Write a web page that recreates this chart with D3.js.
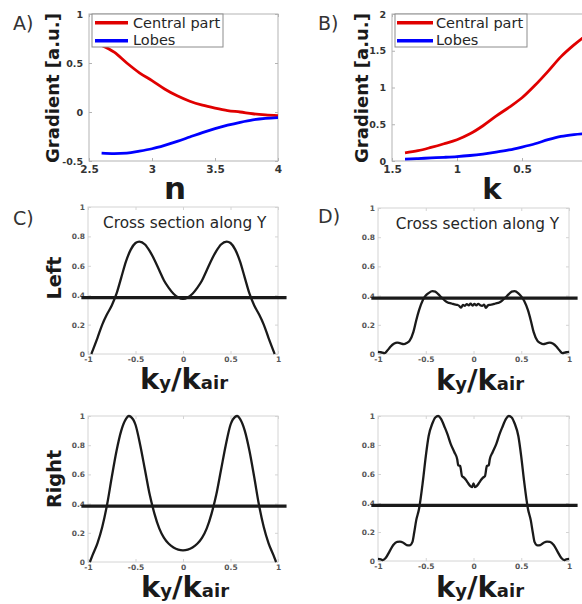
<!DOCTYPE html>
<meta charset="utf-8">
<script src="https://d3js.org/d3.v7.min.js"></script>
<style>
  body { margin: 0; background: #fff; }
  text { font-family: "DejaVu Sans", sans-serif; }
</style>
<div id="my_dataviz"></div>
<script>

// ---- panel A : gradient vs n ----
var nVals     = [2.6, 2.7, 2.8, 2.9, 3.0, 3.1, 3.2, 3.3, 3.4, 3.5, 3.6, 3.7, 3.8, 3.9, 4.0];
var centralA  = [0.68, 0.61, 0.50, 0.40, 0.32, 0.235, 0.165, 0.11, 0.07, 0.04, 0.015, 0.0, -0.018, -0.03, -0.038];
var lobesA    = [-0.42, -0.425, -0.42, -0.40, -0.375, -0.34, -0.30, -0.255, -0.21, -0.17, -0.135, -0.105, -0.08, -0.065, -0.057];
var nTicks    = [2.5, 3, 3.5, 4];
var gradTicksA = [-0.5, 0, 0.5, 1];

// ---- panel B : gradient vs k (reversed axis) ----
var kVals     = [1.4, 1.3, 1.2, 1.1, 1.0, 0.9, 0.8, 0.7, 0.6, 0.5, 0.4, 0.3, 0.2, 0.1, 0.0];
var centralB  = [0.11, 0.14, 0.185, 0.235, 0.29, 0.37, 0.48, 0.61, 0.73, 0.86, 1.03, 1.22, 1.42, 1.58, 1.72];
var lobesB    = [0.025, 0.033, 0.042, 0.05, 0.06, 0.075, 0.095, 0.12, 0.15, 0.19, 0.235, 0.29, 0.335, 0.36, 0.375];
var kTicks    = [1.5, 1, 0.5];
var gradTicksB = [0, 0.5, 1, 1.5, 2];

var legendNames  = ["Central part", "Lobes"];
var legendColors = ["#e00000", "#0000ff"];

// ---- cross sections along Y ----
var crossXTicks = [-1, -0.5, 0, 0.5, 1];
var crossYTicks = [0, 0.2, 0.4, 0.6, 0.8, 1];
var threshold = 0.383;
var thresholdSpan = [-1.07, 1.09];

// C, Left
var cLeftX = [-0.965, -0.9, -0.85, -0.8, -0.75, -0.7, -0.65, -0.6, -0.55, -0.5, -0.46, -0.4, -0.35, -0.3, -0.25, -0.2, -0.15, -0.1, -0.05, 0,
              0.05, 0.1, 0.15, 0.2, 0.25, 0.3, 0.35, 0.4, 0.46, 0.5, 0.55, 0.6, 0.65, 0.7, 0.75, 0.8, 0.85, 0.9, 0.965];
var cLeftY = [0, 0.11, 0.2, 0.27, 0.33, 0.41, 0.52, 0.63, 0.71, 0.755, 0.765, 0.745, 0.70, 0.64, 0.57, 0.50, 0.45, 0.41, 0.385, 0.375,
              0.385, 0.41, 0.45, 0.50, 0.57, 0.64, 0.70, 0.745, 0.765, 0.755, 0.71, 0.63, 0.52, 0.41, 0.33, 0.27, 0.2, 0.11, 0];

// C, Right
var cRightX = [-0.98, -0.95, -0.9, -0.85, -0.8, -0.75, -0.7, -0.65, -0.6, -0.57, -0.55, -0.5, -0.45, -0.4, -0.35, -0.3, -0.25, -0.2, -0.15, -0.1, -0.05, 0,
               0.05, 0.1, 0.15, 0.2, 0.25, 0.3, 0.35, 0.4, 0.45, 0.5, 0.55, 0.57, 0.6, 0.65, 0.7, 0.75, 0.8, 0.85, 0.9, 0.95, 0.98];
var cRightY = [0, 0.05, 0.13, 0.24, 0.39, 0.58, 0.76, 0.9, 0.98, 1.0, 0.995, 0.94, 0.8, 0.63, 0.46, 0.33, 0.23, 0.165, 0.125, 0.1, 0.085, 0.08,
               0.085, 0.1, 0.125, 0.165, 0.23, 0.33, 0.46, 0.63, 0.8, 0.94, 0.995, 1.0, 0.98, 0.9, 0.76, 0.58, 0.39, 0.24, 0.13, 0.05, 0];

// D, Left
var dLeftX = [-1, -0.97, -0.93, -0.9, -0.87, -0.83, -0.8, -0.77, -0.73, -0.7, -0.67, -0.63, -0.6, -0.57, -0.53, -0.5, -0.47, -0.43, -0.4, -0.37,
              -0.33, -0.3, -0.27, -0.23, -0.2, -0.17, -0.15, -0.13, -0.11, -0.09, -0.07, -0.05, -0.03, -0.01,
              0.01, 0.03, 0.05, 0.07, 0.09, 0.11, 0.13, 0.15, 0.17, 0.2, 0.23, 0.27, 0.3, 0.33,
              0.37, 0.4, 0.43, 0.47, 0.5, 0.53, 0.57, 0.6, 0.63, 0.67, 0.7, 0.73, 0.77, 0.8, 0.83, 0.87, 0.9, 0.93, 0.97, 1];
var dLeftY = [0.015, 0.012, 0.006, 0.025, 0.05, 0.072, 0.078, 0.074, 0.068, 0.075, 0.09, 0.15, 0.23, 0.30, 0.37, 0.40, 0.417, 0.43, 0.427, 0.41,
              0.384, 0.366, 0.353, 0.346, 0.34, 0.336, 0.33, 0.317, 0.336, 0.33, 0.342, 0.333, 0.345, 0.332,
              0.343, 0.333, 0.344, 0.334, 0.33, 0.338, 0.316, 0.332, 0.337, 0.34, 0.346, 0.353, 0.366, 0.384,
              0.41, 0.427, 0.43, 0.416, 0.395, 0.365, 0.30, 0.23, 0.15, 0.09, 0.075, 0.068, 0.074, 0.078, 0.072, 0.05, 0.025, 0.006, 0.012, 0.015];

// D, Right
var dRightX = [-1, -0.97, -0.95, -0.92, -0.88, -0.84, -0.8, -0.77, -0.74, -0.7, -0.67, -0.64, -0.62, -0.6, -0.57, -0.53, -0.5, -0.47, -0.43, -0.4, -0.37,
               -0.34, -0.3, -0.27, -0.24, -0.2, -0.17, -0.16, -0.14, -0.12, -0.1, -0.08, -0.06, -0.03, -0.015, 0,
               0.015, 0.03, 0.06, 0.08, 0.1, 0.12, 0.14, 0.16, 0.17, 0.2, 0.24, 0.27, 0.3, 0.34,
               0.37, 0.4, 0.43, 0.47, 0.5, 0.53, 0.57, 0.6, 0.62, 0.64, 0.67, 0.7, 0.74, 0.77, 0.8, 0.84, 0.88, 0.92, 0.95, 0.97, 1];
var dRightY = [0.014, 0.012, 0.006, 0.02, 0.065, 0.11, 0.132, 0.133, 0.128, 0.11, 0.108, 0.13, 0.2, 0.28, 0.36, 0.55, 0.72, 0.86, 0.95, 0.99, 1.0,
               0.98, 0.92, 0.87, 0.81, 0.75, 0.70, 0.66, 0.655, 0.585, 0.575, 0.56, 0.54, 0.515, 0.51, 0.535,
               0.51, 0.515, 0.54, 0.56, 0.575, 0.585, 0.655, 0.66, 0.70, 0.75, 0.81, 0.87, 0.92, 0.98,
               1.0, 0.99, 0.95, 0.86, 0.72, 0.55, 0.36, 0.28, 0.2, 0.13, 0.108, 0.11, 0.128, 0.133, 0.132, 0.11, 0.065, 0.02, 0.006, 0.012, 0.014];


var svg = d3.select("#my_dataviz")
    .append("svg")
    .attr("width", 582)
    .attr("height", 604)
    .style("display", "block");

var fmt = function(d) { return String(d); };

// draws frame + ticks for one panel, returns scales
function makeAxes(o) {
    var x = d3.scaleLinear().domain(o.xd).range(o.xr);
    var y = d3.scaleLinear().domain(o.yd).range(o.yr);
    var g = svg.append("g");

    g.append("rect")
        .attr("x", o.xr[0]).attr("y", o.yr[1])
        .attr("width", o.xr[1] - o.xr[0]).attr("height", o.yr[0] - o.yr[1])
        .attr("fill", "none")
        .attr("stroke", o.frame)
        .attr("stroke-width", 1);

    var xa = g.append("g")
        .attr("transform", "translate(0," + o.yr[0] + ")")
        .call(d3.axisBottom(x).tickValues(o.xt).tickSize(-3).tickPadding(o.xpad).tickFormat(fmt));
    var ya = g.append("g")
        .attr("transform", "translate(" + o.xr[0] + ",0)")
        .call(d3.axisLeft(y).tickValues(o.yt).tickSize(-3).tickPadding(o.ypad).tickFormat(fmt));
    // mirrored ticks on top and right (MATLAB box)
    var ta = g.append("g")
        .attr("transform", "translate(0," + o.yr[1] + ")")
        .call(d3.axisTop(x).tickValues(o.xt).tickSize(-3).tickFormat(""));
    var ra = g.append("g")
        .attr("transform", "translate(" + o.xr[1] + ",0)")
        .call(d3.axisRight(y).tickValues(o.yt).tickSize(-3).tickFormat(""));

    [xa, ya, ta, ra].forEach(function(a) {
        a.select(".domain").remove();
        a.selectAll(".tick line").attr("stroke", o.frame);
    });
    xa.selectAll("text").attr("font-size", o.xfs).attr("font-weight", "bold").attr("fill", o.tc)
        .attr("font-family", "DejaVu Sans");
    ya.selectAll("text").attr("font-size", o.yfs).attr("font-weight", "bold").attr("fill", o.tc)
        .attr("font-family", "DejaVu Sans");
    return {x: x, y: y, g: g};
}

function drawLine(p, xs, ys, color, w) {
    var line = d3.line()
        .x(function(d, i) { return p.x(xs[i]); })
        .y(function(d) { return p.y(d); })
        .curve(d3.curveMonotoneX);
    p.g.append("path")
        .datum(ys)
        .attr("d", line)
        .attr("fill", "none")
        .attr("stroke", color)
        .attr("stroke-width", w)
        .attr("stroke-linejoin", "round");
}

function legend(p, x0, x1, lx0, lx1, tx) {
    p.g.append("rect")
        .attr("x", x0).attr("y", 14).attr("width", x1 - x0).attr("height", 33)
        .attr("fill", "#fff").attr("stroke", "#8c8c8c").attr("stroke-width", 1);
    var ly = [22.7, 40.7], ty = [28.3, 44.6];
    legendNames.forEach(function(name, i) {
        p.g.append("line")
            .attr("x1", lx0).attr("x2", lx1).attr("y1", ly[i]).attr("y2", ly[i])
            .attr("stroke", legendColors[i]).attr("stroke-width", 3.5);
        p.g.append("text")
            .attr("x", tx).attr("y", ty[i])
            .attr("font-size", 14.5).attr("fill", "#262626")
            .text(name);
    });
}

function yLabel(x, y, txt, size) {
    svg.append("text")
        .attr("transform", "translate(" + x + "," + y + ") rotate(-90)")
        .attr("text-anchor", "middle")
        .attr("font-weight", "bold")
        .attr("font-size", size)
        .attr("fill", "#1a1a1a")
        .text(txt);
}

function letter(x, y, txt) {
    svg.append("text").attr("x", x).attr("y", y)
        .attr("font-size", 19).attr("fill", "#333")
        .text(txt);
}

function kLabel(cx, y) {
    var t = svg.append("text")
        .attr("x", cx).attr("y", y)
        .attr("text-anchor", "middle")
        .attr("font-weight", "bold")
        .attr("fill", "#1a1a1a");
    t.append("tspan").attr("font-size", 29).text("k");
    t.append("tspan").attr("font-size", 18).text("y");
    t.append("tspan").attr("font-size", 29).text("/");
    t.append("tspan").attr("font-size", 29).text("k");
    t.append("tspan").attr("font-size", 18).text("air");
}

// ---------- A ----------
var pA = makeAxes({xd: [2.5, 4], xr: [89, 278], yd: [-0.5, 1], yr: [161, 14],
    xt: nTicks, yt: gradTicksA, frame: "#b3b3b3", tc: "#333", xfs: 10.5, yfs: 9.5, xpad: 5, ypad: 6});
drawLine(pA, nVals, centralA, legendColors[0], 2.8);
drawLine(pA, nVals, lobesA, legendColors[1], 2.8);
legend(pA, 92, 223, 95, 128, 133);
yLabel(59, 88, "Gradient [a.u.]", 18);
svg.append("text").attr("x", 175).attr("y", 199).attr("text-anchor", "middle")
    .attr("font-size", 31).attr("font-weight", "bold").attr("fill", "#1a1a1a").text("n");
letter(13, 29.5, "A)");

// ---------- B ----------
var pB = makeAxes({xd: [1.5, 0], xr: [392, 587], yd: [0, 2], yr: [161, 14],
    xt: kTicks, yt: gradTicksB, frame: "#b3b3b3", tc: "#333", xfs: 10.5, yfs: 9.5, xpad: 5, ypad: 6});
drawLine(pB, kVals, centralB, legendColors[0], 2.8);
drawLine(pB, kVals, lobesB, legendColors[1], 2.8);
legend(pB, 395, 527, 397, 433, 436);
yLabel(368, 88, "Gradient [a.u.]", 18);
svg.append("text").attr("x", 492).attr("y", 199).attr("text-anchor", "middle")
    .attr("font-size", 29).attr("font-weight", "bold").attr("fill", "#1a1a1a").text("k");
letter(318, 29.5, "B)");

// ---------- cross sections ----------
var crossPanels = [
    {xr: [88, 278], yr: [354, 207], xs: cLeftX, ys: cLeftY, title: true, tx: 184.7, ty: 227.7, kx: 184, ky: 389},
    {xr: [378, 569], yr: [354, 208], xs: dLeftX, ys: dLeftY, title: true, tx: 477.5, ty: 229, kx: 480, ky: 390},
    {xr: [88, 278], yr: [562, 416], xs: cRightX, ys: cRightY, title: false, kx: 185, ky: 597},
    {xr: [378, 569], yr: [561, 416], xs: dRightX, ys: dRightY, title: false, kx: 480, ky: 597}
];

crossPanels.forEach(function(c) {
    var p = makeAxes({xd: [-1, 1], xr: c.xr, yd: [0, 1], yr: c.yr,
        xt: crossXTicks, yt: crossYTicks, frame: "#d4d4d4", tc: "#555", xfs: 7.5, yfs: 7.5, xpad: 3, ypad: 3});
    drawLine(p, c.xs, c.ys, "#1a1a1a", 2.3);
    // threshold line
    p.g.append("line")
        .attr("x1", p.x(thresholdSpan[0])).attr("x2", p.x(thresholdSpan[1]))
        .attr("y1", p.y(threshold)).attr("y2", p.y(threshold))
        .attr("stroke", "#1a1a1a").attr("stroke-width", 3.3);
    if (c.title) {
        svg.append("text").attr("x", c.tx).attr("y", c.ty).attr("text-anchor", "middle")
            .attr("font-size", 15.3).attr("fill", "#262626").text("Cross section along Y");
    }
    kLabel(c.kx, c.ky);
});

yLabel(61, 278, "Left", 19.3);
yLabel(61, 479, "Right", 19.3);
letter(13, 224.6, "C)");
letter(318, 223, "D)");

</script>
